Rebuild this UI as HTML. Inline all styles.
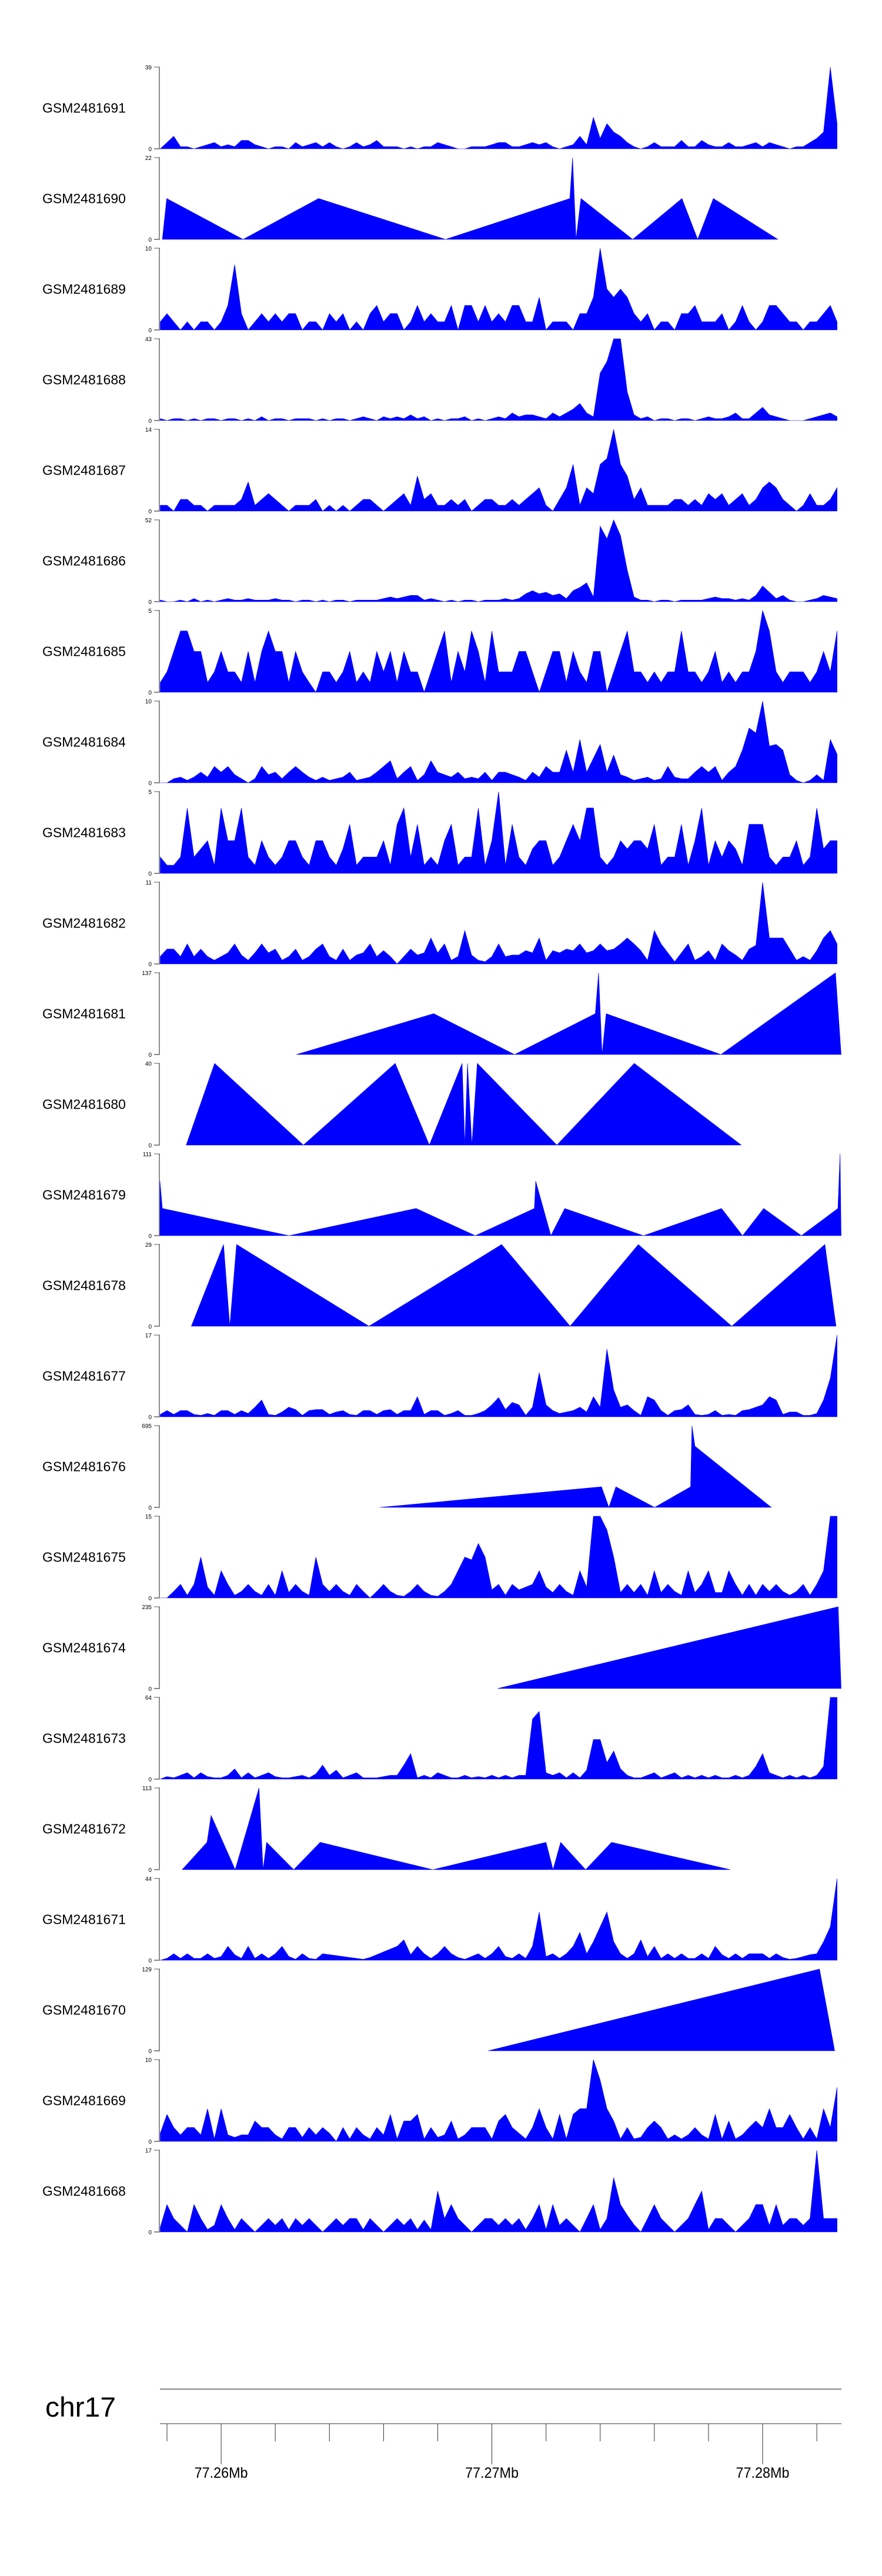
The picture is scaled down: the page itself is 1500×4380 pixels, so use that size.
<!DOCTYPE html>
<html><head><meta charset="utf-8">
<style>
html,body{margin:0;padding:0;background:#fff;}
svg{display:block;font-family:"Liberation Sans",Arial,sans-serif;}
</style></head>
<body>
<svg id="chart" width="1500" height="4380" viewBox="0 0 1500 4380" xmlns="http://www.w3.org/2000/svg">
<g id="tracks"></g>
<g id="genome-axis"></g>
</svg>
<script>
// genomic positions in kb offset from 77,250,000 bp
const regionStartKb = 7.74;
const regionEndKb = 32.91;
const axisTicksKb = [8,10,12,14,16,18,20,22,24,26,28,30,32];
const axisLabelsKb = [10,20,30];
const axisLabelText = ["77.26Mb","77.27Mb","77.28Mb"];
const chromName = "chr17";

const trackNames = ["GSM2481691","GSM2481690","GSM2481689","GSM2481688","GSM2481687","GSM2481686","GSM2481685","GSM2481684","GSM2481683","GSM2481682","GSM2481681","GSM2481680","GSM2481679","GSM2481678","GSM2481677","GSM2481676","GSM2481675","GSM2481674","GSM2481673","GSM2481672","GSM2481671","GSM2481670","GSM2481669","GSM2481668"];
const trackMax = [39,22,10,43,14,52,5,10,5,11,137,40,111,29,17,695,15,235,64,113,44,129,10,17];

// shared bin positions (kb) for dense tracks
const bins = [7.75,8,8.25,8.5,8.75,9,9.25,9.5,9.75,10,10.25,10.5,10.75,11,11.25,11.5,11.75,12,12.25,12.5,12.75,13,13.25,13.5,13.75,14,14.25,14.5,14.75,15,15.25,15.5,15.75,16,16.25,16.5,16.75,17,17.25,17.5,17.75,18,18.25,18.5,18.75,19,19.25,19.5,19.75,20,20.25,20.5,20.75,21,21.25,21.5,21.75,22,22.25,22.5,22.75,23,23.25,23.5,23.75,24,24.25,24.5,24.75,25,25.25,25.5,25.75,26,26.25,26.5,26.75,27,27.25,27.5,27.75,28,28.25,28.5,28.75,29,29.25,29.5,29.75,30,30.25,30.5,30.75,31,31.25,31.5,31.75,32,32.25,32.5,32.75];

const v1691 = [0,3,6,1,1,0,1,2,3,1,2,1,4,4,2,1,0,1,1,0,3,1,2,3,1,3,1,0,1,3,1,2,4,1,1,1,0,1,0,1,1,3,2,1,0,0,1,1,1,2,3,3,1,1,2,3,2,3,1,0,1,2,6,2,15,5,12,8,6,3,1,0,1,3,1,1,1,4,1,1,4,2,1,1,3,1,1,2,3,1,3,2,1,0,1,1,3,5,8,39,12];
const v1689 = [1,2,1,0,1,0,1,1,0,1,3,8,2,0,1,2,1,2,1,2,2,0,1,1,0,2,1,2,0,1,0,2,3,1,2,2,0,1,3,1,2,1,1,3,0,3,3,1,3,1,2,1,3,3,1,1,4,0,1,1,1,0,2,2,4,10,5,4,5,4,2,1,2,0,1,1,0,2,2,3,1,1,1,2,0,1,3,1,0,1,3,3,2,1,1,0,1,1,2,3,1];
const v1688 = [1,0,1,1,0,1,0,1,1,0,1,1,0,1,0,2,0,1,1,0,1,1,1,0,1,0,1,1,0,1,2,1,0,2,1,2,1,3,1,2,0,1,0,1,1,2,0,1,0,1,2,1,4,2,3,3,2,1,4,2,4,6,9,4,2,25,31,43,43,15,3,1,2,0,1,1,0,1,1,0,1,2,1,1,2,4,1,1,4,7,3,2,1,0,0,0,1,2,3,4,2];
const v1687 = [1,1,0,2,2,1,1,0,1,1,1,1,2,5,1,2,3,2,1,0,1,1,1,2,0,1,0,1,0,1,2,2,1,0,1,2,3,1,6,2,3,1,1,2,1,2,0,1,2,2,1,1,2,1,2,3,4,1,0,2,4,8,1,4,3,8,9,14,8,6,2,4,1,1,1,1,2,2,1,2,1,3,2,3,1,2,3,1,2,4,5,4,2,1,0,1,3,1,1,2,4];
const v1686 = [1,0,0,1,0,2,0,1,0,1,2,1,1,2,1,1,1,2,1,1,0,1,1,0,1,0,1,1,0,1,1,1,1,2,3,2,3,4,4,1,2,1,0,1,0,1,1,0,1,1,1,2,1,2,5,7,5,6,4,5,2,7,9,12,3,48,40,52,42,20,3,1,1,0,1,1,0,1,1,1,1,2,3,2,2,1,2,1,4,10,6,2,4,1,0,0,1,2,4,3,2];
const v1685 = [0.6,1.25,2.5,3.75,3.75,2.5,2.5,0.6,1.25,2.5,1.25,1.25,0.6,2.5,0.6,2.5,3.75,2.5,2.5,0.6,2.5,1.25,0.6,0,1.25,1.25,0.6,1.25,2.5,0.6,1.25,0.6,2.5,1.25,2.5,0.6,2.5,1.25,1.25,0,1.25,2.5,3.75,0.6,2.5,1.25,3.75,2.5,0.6,3.75,1.25,1.25,1.25,2.5,2.5,1.25,0,1.25,2.5,2.5,0.6,2.5,1.25,0.6,2.5,2.5,0,1.25,2.5,3.75,1.25,1.25,0.6,1.25,0.6,1.25,1.25,3.75,1.25,1.25,0.6,1.25,2.5,0.6,1.25,0.6,1.25,1.25,2.5,5,3.75,1.25,0.6,1.25,1.25,1.25,0.6,1.25,2.5,1.25,3.75];
const v1684 = [0,0,0.5,0.7,0.3,0.7,1.3,0.7,2,1.3,2,1,0.5,0,0.5,2,1,1.3,0.5,1.3,2,1.3,0.7,0.3,0.7,0.3,0.5,0.7,1.3,0.3,0.5,0.7,1.3,2,2.7,0.5,1.3,2,0.3,1,2.7,1.3,1,0.7,1.3,0.5,0.7,0.5,1.3,0.3,1.3,1.3,1,0.7,0.3,1.3,0.7,2,1.3,1.3,4,1.3,5.3,1.3,3,4.7,1.3,3.4,1,0.7,0.3,0.5,0.7,0.3,0.5,2,0.7,0.5,0.5,1.3,2,1.3,2,0.3,1.3,2,4,6.7,6.1,10,4.5,4.7,4,1,0.3,0,0.3,1,0.3,5.3,3.5];
const v1683 = [1,0.5,0.5,1,4,1,1.5,2,0.5,4,2,2,4,1,0.5,2,1,0.5,1,2,2,1,0.5,2,2,1,0.5,1.5,3,0.5,1,1,1,2,0.5,3,4,1,3,0.5,1,0.5,2,3,0.5,1,1,4,0.5,2,5,0.5,3,1,0.5,1.5,2,2,0.5,1,2,3,2,4,4,1,0.5,1,2,1.5,2,2,1.5,3,0.5,1,1,3,0.5,2,4,0.5,2,1,2,1.5,0.5,3,3,3,1,0.5,1,1,2,0.5,1,4,1.5,2,2];
const v1682 = [1,2,2,1,2.7,1,2,1,0.5,1,1.5,2.7,1.2,0.5,1.5,2.7,1.5,2,0.5,1,2,0.5,1,2,2.7,1,0.5,2,0.5,1.2,1.5,2.7,1,1.8,1,0,1,2,1.2,1.5,3.5,1.5,2.7,0.5,1,4.5,1.2,0.5,0.3,1,2.7,1,1.2,1.2,1.8,1.5,3.5,0.5,1.8,1.5,2,1.8,2.7,1.5,1.8,2.7,1.8,2,2.7,3.5,2.7,1.8,0.5,4.5,2.7,1.5,0.3,1.5,2.7,0.5,1,1.8,0.5,2.7,1.8,1.2,0.5,2,2.5,11,3.5,3.5,3.5,2,0.5,1,0.5,1.8,3.5,4.5,2.7];
const v1677 = [0.5,1.3,0.5,1.3,1.3,0.5,0.3,0.7,0.3,1.3,1.3,0.5,1.3,0.7,2,3.5,0.5,0.3,1,2,1.5,0.3,1.3,1.5,1.5,0.5,1,1.3,0.5,0.3,1.3,1.3,0.5,1.3,1.5,0.5,1.3,1.3,4.2,0.5,1.3,1.3,0.3,0.7,1.3,0.3,0.3,0.7,1.3,2.5,4,1.5,3,2.5,0.3,2,9.2,2.5,1.3,0.7,1,1.3,2,1,4.2,2,14.1,5.6,2,2.5,1.3,0.3,4.2,3.5,1.3,0.3,1.3,1.5,2.5,0.5,0.3,0.5,1.3,0.3,0.5,0.3,1.3,1.5,2,2.5,4.2,3.5,0.5,1,1,0.3,0.3,0.7,3.5,8,17];
const v1675 = [0,0,1.2,2.5,0.5,2.5,7.5,2,0.5,5,2.5,0.5,1.2,2.5,1.2,0.5,2.5,0.5,5,1,2.5,1.2,0.5,7.5,2.5,1.2,2.5,1.2,0.5,2.5,1.2,0,1.2,2.5,1.2,0.5,0.3,1.2,2.5,1.2,0.5,0.3,1.2,2.5,5,7.5,7,10,7.5,1.5,2.5,0.5,2.5,1.5,2,2.5,5,2,1,2.5,1.2,0.5,5,2,15,15,12.5,7.5,1,2.5,1,2.5,0.5,5,1,2.5,1.2,0.5,5,1,2.5,5,1,1,5,2.5,0.5,2.5,0.5,2.5,1.2,2.5,1.2,0.5,1.2,2.5,0.5,2.5,5,15,15];
const v1673 = [0,2,1,3,5,1,5,2,1,1,3,8,1,5,1,3,5,2,1,1,2,3,1,4,11,3,7,1,3,5,1,1,1,2,3,3,11,20,1,3,1,5,3,1,1,3,1,2,1,3,1,3,1,3,3,47,53,5,3,5,1,5,1,7,31,31,13,22,8,3,1,1,3,5,1,3,5,1,3,1,3,1,3,1,1,3,1,3,10,20,5,3,1,3,1,3,1,3,10,64,64];
const v1671 = [0,1,3.5,1,3.5,1,1,3.5,1,2,7.5,3,1,7.5,1,3.5,1,3.5,7.5,2,0.5,3.5,1,0.5,3.5,3,2.5,2,1.5,1,0.5,1.5,3,4.5,6,7.5,11,3,7.5,3.5,1,3.5,7.5,3.5,1.5,0.5,2,3.5,1,3.5,7.5,2,1,3.5,1,7.5,26,2,3.5,1,3.5,7.5,15,3.5,10,18,26,10,3.5,1,3.5,11,2,7.5,1,3.5,1,3.5,1,1,3.5,1,7.5,3,1,3.5,1,3.5,3.5,3.5,1,3.5,1.5,0.5,1,2,3,3.5,10,18,44];
const v1669 = [1,3.3,1.7,0.8,1.7,1.7,0.8,4,0.3,4,0.8,0.5,0.8,0.8,2.5,1.7,1.7,0.8,0.3,1.7,1.7,0.5,1.7,0.8,1.7,1,0,1.7,0.3,1.7,0.8,0.3,1.7,0.8,3.3,0.3,2.5,2.5,3.3,0.3,1.7,0.5,0.8,2.5,0.3,0.8,1.7,1.7,1.7,0.3,2.5,3.3,1.7,1,0.3,1.7,4,1.7,0.3,3.3,0.3,3.3,4,4,10,7.5,4,2.5,0.3,1.7,0.3,0.5,1.7,2.5,1.7,0.3,0.8,0.3,0.8,1.7,0.8,0.3,3.3,0.3,2.5,0.3,0.8,1.7,2.5,1.7,4,1.7,1.7,3.3,1.7,0.3,1.7,0.3,4,1.7,6.6];
const v1668 = [1,5.7,2.8,1.4,0,5.7,2.8,0.5,1.4,5.7,2.8,0.5,2.8,1.4,0,1.4,2.8,1.4,2.8,0.5,2.8,1.4,2.8,1.4,0,1.4,2.8,1.4,2.8,2.8,0.5,2.8,1.4,0,1.4,2.8,1.4,2.8,0.5,2.5,0.5,8.5,2.8,5.7,2.8,1.4,0,1.4,2.8,2.8,1.4,2.8,1.4,2.8,0.5,2.8,5.7,0.5,5.7,1.4,2.8,1.4,0,2.8,5.7,0.5,2.8,11.3,5.7,3.5,1.5,0,2.8,5.7,2.8,1.4,0,1.4,2.8,5.7,8.5,0.5,2.8,2.8,1.4,0,1.4,2.8,5.7,5.7,1.4,5.7,1.4,2.8,2.8,1.4,2.8,17,2.8,2.8,2.8];

// sparse tracks: explicit positions (kb) and values
const p1690 = [7.83,7.99,10.81,13.60,18.29,22.88,22.98,23.11,23.29,25.20,27.02,27.60,28.18,30.56];
const v1690 = [0,11,0,11,0,11,22,0,11,0,11,0,11,0];
const p1681 = [12.78,17.85,20.84,23.82,23.94,24.07,24.22,28.46,32.69,32.90];
const v1681 = [0,68.5,0,68.5,137,0,68.5,0,137,0];
const p1680 = [8.71,9.76,13.04,16.43,17.69,18.90,19.00,19.10,19.26,19.46,22.40,25.26,29.21];
const v1680 = [0,40,0,40,0,40,0,40,0,40,0,40,0];
const p1679 = [7.74,7.83,12.51,17.20,19.39,21.57,21.62,22.18,22.69,25.60,28.48,29.26,30.04,31.43,32.78,32.86,32.90];
const v1679 = [74,37,0,37,0,37,74,0,37,0,37,0,37,0,37,111,0];
const p1678 = [8.90,10.09,10.32,10.57,15.46,20.36,22.89,25.41,28.86,32.30,32.71];
const v1678 = [0,29,0,29,0,29,0,29,0,29,0];
const p1676 = [15.86,24.05,24.32,24.58,26.01,27.34,27.39,27.50,30.32];
const v1676 = [0,175,0,175,0,175,695,520,0];
const p1674 = [20.21,32.79,32.90];
const v1674 = [0,235,0];
const p1672 = [8.56,9.48,9.63,10.52,11.40,11.55,11.68,12.68,13.66,17.82,22.00,22.26,22.54,23.46,24.42,28.81];
const v1672 = [0,37.8,75,0,113,0,37.8,0,37.8,0,37.8,0,37.8,0,37.8,0];
const p1670 = [19.86,32.10,32.66];
const v1670 = [0,129,0];

const trackPositions = [bins,p1690,bins,bins,bins,bins,bins,bins,bins,bins,p1681,p1680,p1679,p1678,bins,p1676,bins,p1674,bins,p1672,bins,p1670,bins,bins];
const trackValues = [v1691,v1690,v1689,v1688,v1687,v1686,v1685,v1684,v1683,v1682,v1681,v1680,v1679,v1678,v1677,v1676,v1675,v1674,v1673,v1672,v1671,v1670,v1669,v1668];

const NS = "http://www.w3.org/2000/svg";
const plotLeft = 272, plotRight = 1431;
const trackTop0 = 114, trackPitch = 154, trackH = 139;
function xScale(kb){ return plotLeft + (kb - regionStartKb) / (regionEndKb - regionStartKb) * (plotRight - plotLeft); }
function mk(tag, attrs, parent){ const e = document.createElementNS(NS, tag); for (const k in attrs) e.setAttribute(k, attrs[k]); parent.appendChild(e); return e; }

const tracksG = document.getElementById('tracks');
trackNames.forEach((name, i) => {
  const top = trackTop0 + i * trackPitch;
  const base = top + trackH;
  const yScale = v => base - Math.min(v, trackMax[i]) / trackMax[i] * trackH;
  const g = mk('g', {}, tracksG);
  
  
  const lab = mk('text', {x: 72, y: top + trackH/2 + 8, 'font-size': 23, fill: '#000'}, g);
  lab.textContent = name;
  
  
  const ax = mk('rect', {x: 270, y: top, width: 2, height: trackH, fill: '#8c8c8c'}, g);
  
  
  const t1 = mk('line', {x1: 262, x2: 272, y1: top, y2: top, stroke: '#555', 'stroke-width': 1}, g);
  
  
  const t0 = mk('line', {x1: 262, x2: 272, y1: base, y2: base, stroke: '#888', 'stroke-width': 2}, g);
  
  
  const lmax = mk('text', {x: 258, y: top + 4, 'font-size': 10, 'text-anchor': 'end', fill: '#000'}, g);
  lmax.textContent = String(trackMax[i]);
  
  
  const lz = mk('text', {x: 258, y: base + 4, 'font-size': 10, 'text-anchor': 'end', fill: '#000'}, g);
  lz.textContent = '0';
  
  
  const pos = trackPositions[i], vals = trackValues[i];
  let pts = [];
  pts.push(xScale(pos[0]).toFixed(1) + ',' + base);
  for (let k = 0; k < pos.length; k++) pts.push(xScale(pos[k]).toFixed(1) + ',' + yScale(vals[k]).toFixed(1));
  pts.push(xScale(pos[pos.length-1]).toFixed(1) + ',' + base);
  const poly = mk('polygon', {points: pts.join(' '), fill: '#0000ff', stroke: '#0000ff', 'stroke-width': 0.6}, g);
  
  
});

const axG = document.getElementById('genome-axis');
const chr = mk('text', {x: 77, y: 4109, 'font-size': 47, textLength: 120, lengthAdjust: 'spacingAndGlyphs', fill: '#000'}, axG);
chr.textContent = chromName;


const l1 = mk('rect', {x: plotLeft, y: 4061, width: plotRight - plotLeft, height: 2.5, fill: '#999'}, axG);


const l2 = mk('rect', {x: plotLeft, y: 4120, width: plotRight - plotLeft, height: 2, fill: '#999'}, axG);


axisTicksKb.forEach(kb => {
  const major = axisLabelsKb.indexOf(kb) >= 0;
  const t = mk('line', {x1: xScale(kb), x2: xScale(kb), y1: 4121, y2: major ? 4190 : 4151, stroke: '#333', 'stroke-width': 1}, axG);
  
  
});
axisLabelsKb.forEach((kb, j) => {
  const t = mk('text', {x: xScale(kb), y: 4213, 'font-size': 25, 'text-anchor': 'middle', textLength: 91, lengthAdjust: 'spacingAndGlyphs', fill: '#000'}, axG);
  t.textContent = axisLabelText[j];
  
  
});
</script>
</body></html>
